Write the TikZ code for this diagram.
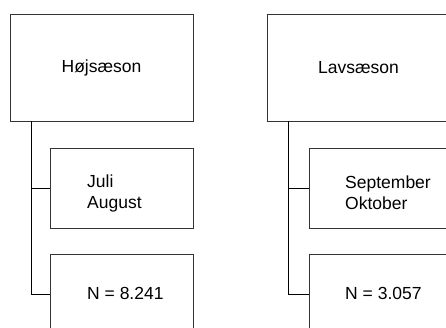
\documentclass[tikz,border=0pt]{standalone}
\usepackage{fontspec}
\setmainfont{Liberation Sans}
\begin{document}
\begin{tikzpicture}[x=1pt,y=-1pt,
  box/.style={draw=black!80, line width=0.8pt, inner sep=0pt, outer sep=0pt},
  topbox/.style={box, minimum width=183pt, minimum height=107pt},
  subbox/.style={box, minimum width=143pt, minimum height=80pt},
  txt/.style={inner sep=0pt, font=\fontsize{17.5}{21}\selectfont, align=left},
  conn/.style={draw=black, line width=0.8pt}]
\useasboundingbox (0,0) rectangle (446,327);
\clip (0,0) rectangle (446,327);
% left column
\node[topbox, txt] (h) at (101.5,67.5) {Højsæson};
\node[subbox] (h1) at (121.5,188) {};
\node[txt, anchor=west] (h1t) at (87,193) {Juli\\August};
\node[subbox] (h2) at (121.5,294) {};
\node[txt, anchor=west] (h2t) at (87,293) {N = 8.241};
\coordinate (hc) at (31,121);
\draw[conn] (hc) |- (h1.west);
\draw[conn] (hc) |- (h2.west);
% right column
\node[topbox, txt] (l) at (358.5,67.5) {Lavsæson};
\node[subbox] (l1) at (380.5,188) {};
\node[txt, anchor=west] (l1t) at (345,193) {September\\Oktober};
\node[subbox] (l2) at (380.5,294) {};
\node[txt, anchor=west] (l2t) at (345,293) {N = 3.057};
\coordinate (lc) at (288,121);
\draw[conn] (lc) |- (l1.west);
\draw[conn] (lc) |- (l2.west);
\end{tikzpicture}
\end{document}
